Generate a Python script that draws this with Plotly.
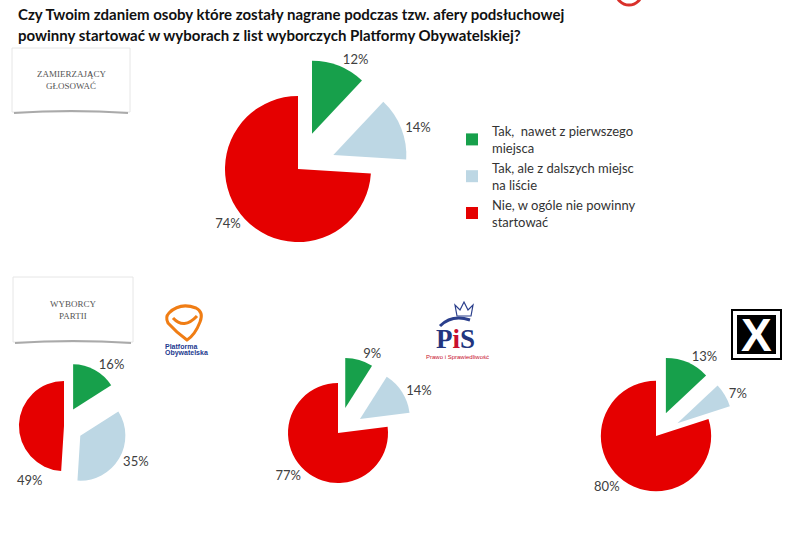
import plotly.graph_objects as go

W, H = 788, 540

labels = ["Tak,  nawet z pierwszego<br>miejsca",
          "Tak, ale z dalszych miejsc<br>na liście",
          "Nie, w ogóle nie powinny<br>startować"]
colors = ["#17a04b", "#bdd7e4", "#e50000"]

groups = ["Zamierzający głosować", "Wyborcy PO", "Wyborcy PiS", "Wyborcy X"]
val_all = [12, 14, 74]
val_po = [16, 35, 49]
val_pis = [9, 14, 77]
val_x = [13, 7, 80]
values = [val_all, val_po, val_pis, val_x]

title_lines = ["Czy Twoim zdaniem osoby które zostały nagrane podczas tzw. afery podsłuchowej",
               "powinny startować w wyborach z list wyborczych Platformy Obywatelskiej?"]


def X(px):
    return px / W


def Y(py):
    return 1 - py / H


# pie domains in pixels: (x0, x1, y0, y1) with y from top
domains_px = [(187, 409, 58, 280), (0, 128, 362, 490), (262, 414, 357, 509), (576, 736, 356, 516)]
pulls = [0.52, 0.42, 0.52, 0.45]
# slices whose label is drawn as a separate note (plotly would put it off the page)
hidden_label = {1: 2}

fig = go.Figure()
for i, (g, v) in enumerate(zip(groups, values)):
    x0, x1, y0, y1 = domains_px[i]
    tmpl = ["%{value}%"] * len(v)
    if i in hidden_label:
        tmpl[hidden_label[i]] = ""
    fig.add_trace(go.Pie(
        labels=labels, values=v, name=g,
        sort=False, direction="clockwise", rotation=0,
        marker=dict(colors=colors, line=dict(width=0)),
        pull=[pulls[i], pulls[i], 0],
        texttemplate=tmpl, textposition="outside",
        outsidetextfont=dict(family="Lato, sans-serif", size=13, color="#404040"),
        domain=dict(x=[X(x0), X(x1)], y=[Y(y1), Y(y0)]),
        showlegend=(i == 0), hoverinfo="label+percent",
    ))

shapes = []
annotations = []


def note(x, y, text, font, xanchor="center", yanchor="middle"):
    annotations.append(dict(x=X(x), y=Y(y), xref="paper", yref="paper", xanchor=xanchor, yanchor=yanchor,
                            showarrow=False, text=text, font=font))


# label of the PO "Nie" slice
note(30, 480, f"{val_po[2]}%", dict(family="Lato, sans-serif", size=13, color="#404040"))

# title
for k, line in enumerate(title_lines):
    note(16, 14 + 21 * k, "<b>" + line + "</b>",
         dict(family="Lato, sans-serif", size=15, color="#111111"), xanchor="left")

# boxes
for (bx0, bx1, by0, by1, t1, t2) in [(12, 130, 48, 112, "ZAMIERZAJĄCY", "GŁOSOWAĆ"),
                                      (13, 133, 277, 342, "WYBORCY", "PARTII")]:
    shapes.append(dict(type="rect", xref="paper", yref="paper", x0=X(bx0), x1=X(bx1), y0=Y(by1), y1=Y(by0),
                       fillcolor="white", line=dict(color="#e6e6e6", width=1)))
    shapes.append(dict(type="path", xref="paper", yref="paper",
                       path=f"M {X(bx0+2)},{Y(by1+1)} Q {X((bx0+bx1)/2)},{Y(by1-3)} {X(bx1-2)},{Y(by1+1)}",
                       line=dict(color="#aaaaaa", width=2)))
    cy = (by0 + by1) / 2
    f = dict(family="Liberation Serif, serif", size=9, color="#555555")
    note((bx0 + bx1) / 2, cy - 6, t1, f)
    note((bx0 + bx1) / 2, cy + 6, t2, f)

# red circle fragment at top
shapes.append(dict(type="circle", xref="paper", yref="paper", x0=X(616), x1=X(642), y0=Y(5), y1=Y(-21),
                   line=dict(color="#d9302a", width=3)))

# PO logo
shapes.append(dict(type="path", xref="paper", yref="paper",
                   path=(f"M {X(169)},{Y(313)} Q {X(180)},{Y(302)} {X(196)},{Y(308)} "
                         f"Q {X(204)},{Y(312)} {X(200)},{Y(322)} Q {X(195)},{Y(335)} {X(187)},{Y(340)} "
                         f"Q {X(176)},{Y(332)} {X(168)},{Y(323)} Q {X(165)},{Y(317)} {X(169)},{Y(313)} Z"),
                   line=dict(color="#f07d14", width=3)))
shapes.append(dict(type="path", xref="paper", yref="paper",
                   path=f"M {X(173)},{Y(318)} Q {X(184)},{Y(330)} {X(197)},{Y(316)}",
                   line=dict(color="#f07d14", width=3)))
fpo = dict(family="Liberation Sans, sans-serif", size=7, color="#1d3a8f")
note(163, 346, "<b>Platforma</b>", fpo, xanchor="left")
note(163, 353, "<b>Obywatelska</b>", fpo, xanchor="left")

# PiS logo
shapes.append(dict(type="path", xref="paper", yref="paper",
                   path=(f"M {X(457)},{Y(316)} L {X(455)},{Y(305)} L {X(460)},{Y(310)} L {X(464)},{Y(302)} "
                         f"L {X(468)},{Y(310)} L {X(473)},{Y(305)} L {X(471)},{Y(316)} Z"),
                   line=dict(color="#2b3f8c", width=1.2)))
shapes.append(dict(type="path", xref="paper", yref="paper",
                   path=f"M {X(440)},{Y(326)} Q {X(452)},{Y(314)} {X(470)},{Y(320)}",
                   line=dict(color="#2b3f8c", width=3)))
note(456, 339, "<b>P<span style='color:#c8102e'>i</span>S</b>",
     dict(family="Liberation Serif, serif", size=27, color="#22357f"))
note(457, 357, "Prawo i Sprawiedliwość",
     dict(family="Liberation Sans, sans-serif", size=6, color="#c8102e"))

# X logo
shapes.append(dict(type="rect", xref="paper", yref="paper", x0=X(732), x1=X(781), y0=Y(359), y1=Y(310),
                   line=dict(color="black", width=2), fillcolor="white"))
shapes.append(dict(type="rect", xref="paper", yref="paper", x0=X(737), x1=X(776), y0=Y(354), y1=Y(315),
                   line=dict(width=0), fillcolor="black"))
note(756.5, 335, "<b>X</b>", dict(family="Liberation Sans, sans-serif", size=46, color="white"))

fig.update_layout(
    width=W, height=H,
    margin=dict(l=0, r=0, t=0, b=0, autoexpand=False),
    paper_bgcolor="white", plot_bgcolor="white",
    shapes=shapes, annotations=annotations,
    legend=dict(x=X(452), y=Y(116), xanchor="left", yanchor="top",
                font=dict(family="Lato, sans-serif", size=13, color="#333333"),
                bgcolor="rgba(0,0,0,0)", traceorder="normal"),
    font=dict(family="Lato, sans-serif"),
)

fig.write_html("out.html", config={"displayModeBar": False},
               post_script="document.body.style.margin='0';")
